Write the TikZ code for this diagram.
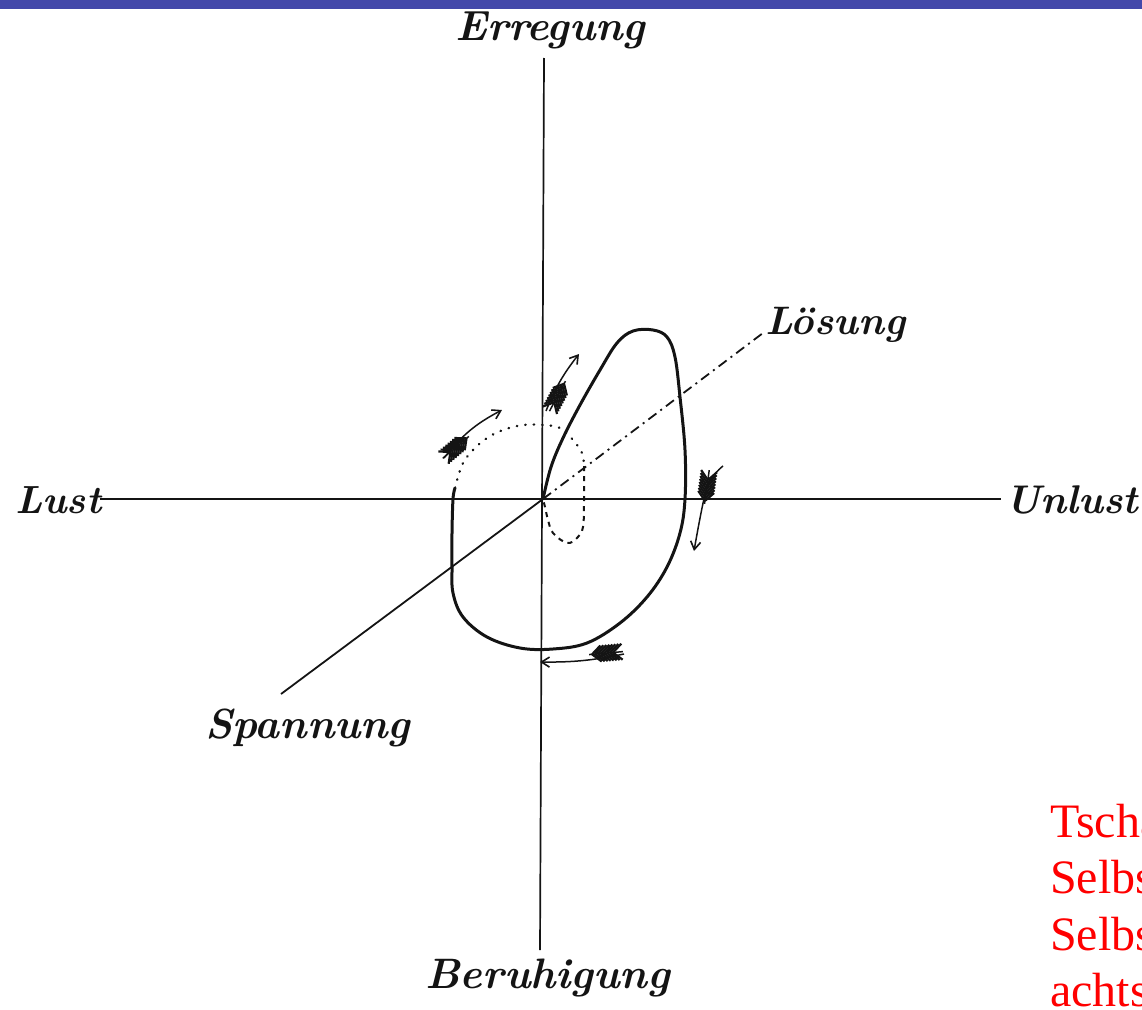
\documentclass[tikz,border=0pt]{standalone}
\usepackage{fontspec}
\newfontfamily\redfont{Liberation Serif}
\usetikzlibrary{arrows.meta}
\definecolor{barblue}{RGB}{67,72,170}
\definecolor{ink}{RGB}{20,20,20}
\newcommand{\lab}[2]{\resizebox{#1pt}{!}{\bfseries\itshape #2}}
\tikzset{
  axisline/.style={draw=ink, line width=1.7pt},
  loopline/.style={draw=ink, line width=3pt, line join=round, line cap=round},
  dotline/.style={draw=ink, line width=2.4pt, line cap=round, dash pattern=on 0.5pt off 8pt},
  dashdotline/.style={draw=ink, line width=1.8pt, dash pattern=on 10pt off 5pt on 2pt off 5pt},
  arrowline/.style={draw=ink, line width=1.5pt, -{Straight Barb[length=8pt,width=10pt,line width=1.6pt]}},
  lbl/.style={inner sep=0pt, anchor=base west, text=ink, font=\fontsize{40}{48}\selectfont},
  redtxt/.style={inner sep=0pt, anchor=base west, text=red, font=\redfont\fontsize{48}{57}\selectfont},
  fletch/.pic={
    \foreach \i in {-6,-3,...,15} {
      \draw[ink, line width=2.2pt] (\i,0) -- ++(-9,8) (\i,0) -- ++(-9,-8);
    }
    \draw[ink, line width=1.5pt] (-16,0) -- (18,0);
  }
}
\begin{document}
\begin{tikzpicture}[x=1pt,y=-1pt]
\useasboundingbox (0,0) rectangle (1142,1009);
\begin{scope}
\clip (0,0) rectangle (1142,1009);
\fill[barblue] (0,0) rectangle (1142,9);

% axes
\coordinate (O) at (543,499);
\coordinate (vt) at (544,58);
\coordinate (vb) at (540,950);
\coordinate (hl) at (100,499);
\coordinate (hr) at (1001,499);
\draw[axisline] (vt) -- (vb);
\draw[axisline] (hl) -- (hr);

% Loesung and Spannung lines
\coordinate (ls) at (763,333);
\coordinate (sp) at (281,694);
\draw[dashdotline] (O) -- (ls);
\draw[draw=ink, line width=1.8pt] (O) -- (sp);

% main loop (solid)
\draw[loopline] plot[smooth, tension=0.6] coordinates {
 (543,499) (551,467) (563,438) (580,405) (600,370) (617,343) (633,331)
 (653,330) (667,337) (675,357) (680,397) (685,450) (685,499) (680,533)
 (667,567) (647,597) (620,623) (587,643) (553,649) (520,648) (487,637)
 (463,617) (453,593) (452,567) (452,533) (453,499) (455,488)};
% dotted continuation
\draw[dotline] plot[smooth, tension=0.6] coordinates {
 (455,488) (458,477) (463,463) (473,450) (487,438) (503,430) (523,425)
 (543,425) (560,428) (573,440) (582,453) (584,466)};
\draw[draw=ink, line width=2pt, dash pattern=on 5pt off 5pt] plot[smooth, tension=0.6] coordinates {
 (584,466) (584,500) (583,527) (577,538) (567,543) (553,533) (548,520) (545,507) (543,499)};

% feathered arrows
\coordinate (a1s) at (546,411);
\coordinate (a1t) at (579,354);
\draw[arrowline] (a1s) to[bend left=8] (a1t);
\pic[rotate=62] at (557,397) {fletch};

\coordinate (a2s) at (444,458);
\coordinate (a2t) at (502,410);
\draw[arrowline] (a2s) to[bend left=12] (a2t);
\pic[rotate=40] at (455,448) {fletch};

\coordinate (a3s) at (723,466);
\coordinate (a3m) at (707,487);
\coordinate (a3t) at (694,551);
\draw[arrowline] plot[smooth] coordinates {(a3s) (a3m) (a3t)};
\pic[rotate=-98] at (707,486) {fletch};

\coordinate (a4s) at (624,654);
\coordinate (a4t) at (540,662);
\draw[arrowline] (a4s) to[bend left=6] (a4t);
\pic[rotate=185] at (607,653) {fletch};

% labels
\node[lbl] (erregung) at (455,40) {\lab{190}{Erregung}};
\node[lbl] (lust) at (15,513) {\lab{86}{Lust}};
\node[lbl] (unlust) at (1005,513) {\lab{133}{Unlust}};
\node[lbl] (loesung) at (765,334) {\lab{140}{Lösung}};
\node[lbl] (spannung) at (205,738) {\lab{205}{Spannung}};
\node[lbl] (beruhigung) at (425,988) {\lab{245}{Beruhigung}};

% red text (cut off at the border, as in the reference)
\node[redtxt] (r1) at (1050,837) {Tscha};
\node[redtxt] (r2) at (1050,893) {Selbs};
\node[redtxt] (r3) at (1050,950) {Selbs};
\node[redtxt] (r4) at (1050,1006) {achts};
\end{scope}
\end{tikzpicture}
\end{document}
